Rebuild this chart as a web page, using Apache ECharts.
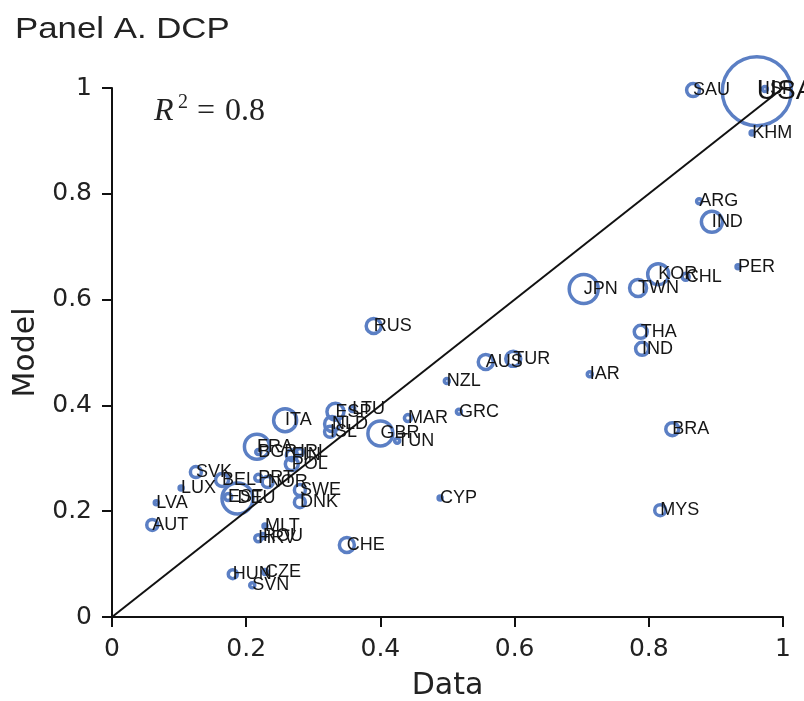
<!DOCTYPE html>
<html>
<head>
<meta charset="utf-8">
<script src="https://cdn.jsdelivr.net/npm/echarts@6/dist/echarts.min.js"></script>
<style>html,body{margin:0;padding:0;background:#fff;}#c{width:804px;height:701px;}</style>
</head>
<body>
<div id="c"></div>
<script>
var countries = ['USA','ISR','SAU','KHM','ARG','IND','PER','KOR','CHL','TWN','JPN','THA','IND','IAR','BRA','MYS','RUS','NZL','AUS','TUR','GRC','MAR','CYP','GBR','TUN','ESP','LTU','NLD','ISL','ITA','FRA','BGR','FIN','IRL','POL','SVK','LUX','BEL','PRT','NOR','EST','DEU','SWE','DNK','LVA','AUT','MLT','HRV','ROU','CHE','HUN','CZE','SVN'];
var dataValues = [0.961,0.973,0.866,0.954,0.875,0.894,0.933,0.814,0.855,0.784,0.703,0.788,0.790,0.712,0.835,0.817,0.390,0.499,0.557,0.598,0.517,0.441,0.489,0.400,0.425,0.333,0.358,0.328,0.325,0.258,0.216,0.218,0.268,0.280,0.268,0.125,0.103,0.164,0.218,0.232,0.173,0.187,0.280,0.280,0.066,0.060,0.228,0.218,0.225,0.350,0.180,0.228,0.209];
var modelValues = [0.994,0.998,0.996,0.915,0.786,0.747,0.662,0.648,0.643,0.622,0.620,0.539,0.507,0.459,0.355,0.202,0.550,0.446,0.482,0.488,0.388,0.376,0.225,0.347,0.333,0.388,0.393,0.365,0.350,0.372,0.322,0.312,0.306,0.312,0.289,0.274,0.244,0.259,0.263,0.255,0.227,0.224,0.240,0.217,0.216,0.174,0.172,0.149,0.153,0.136,0.081,0.085,0.060];
var weights = [69,5,13,4,5,21,4,21,7,17,29,13,13,5,13,11,15,5,15,15,5,7,4,25,5,17,5,15,11,23,25,5,11,7,13,11,4,13,7,11,7,31,11,11,4,11,4,7,5,15,9,5,5];
var xTicks = [0,0.2,0.4,0.6,0.8,1];
var yTicks = [0,0.2,0.4,0.6,0.8,1];
var diagLine = [[0,0],[1,1]];

var blue = '#5b7fc4';
var pts = countries.map(function(c,i){
  var item = {name:c, value:[dataValues[i], modelValues[i], weights[i]]};
  if (c === 'USA') item.label = {fontSize: 28};
  return item;
});

var chart = echarts.init(document.getElementById('c'), null, {renderer:'canvas'});
var axisCommon = {
  type:'value', min:xTicks[0], max:xTicks[xTicks.length-1], interval:xTicks[1]-xTicks[0],
  axisLine:{show:true, lineStyle:{color:'#111', width:2}},
  axisTick:{show:true, inside:false, length:10, lineStyle:{color:'#111', width:2}},
  splitLine:{show:false},
  axisLabel:{fontFamily:'DejaVu Sans', fontSize:25, color:'#222', margin:20},
  nameTextStyle:{fontFamily:'DejaVu Sans', fontSize:30, color:'#222'}
};
chart.setOption({
  animation:false,
  backgroundColor:'#fff',
  grid:{left:112, right:21, top:88, bottom:84, containLabel:false, outerBoundsMode:'none'},
  xAxis: Object.assign({}, axisCommon, {name:'Data', nameLocation:'middle', nameGap:54}),
  yAxis: Object.assign({}, axisCommon, {min:yTicks[0], max:yTicks[yTicks.length-1], interval:yTicks[1]-yTicks[0],
    name:'Model', nameLocation:'middle', nameGap:70, nameRotate:90}),
  graphic:[
    {type:'text', x:15, y:15, scaleX:1.16, style:{text:'Panel A. DCP', font:'30px "Liberation Sans"', fill:'#222', verticalAlign:'top'}},
    {type:'text', x:154, y:112, style:{text:'R', font:'italic 32px "Liberation Serif"', fill:'#222', verticalAlign:'middle'}},
    {type:'text', x:178, y:103, style:{text:'2', font:'20px "Liberation Serif"', fill:'#222', verticalAlign:'middle'}},
    {type:'text', x:197, y:112, style:{text:'=', font:'32px "Liberation Serif"', fill:'#222', verticalAlign:'middle'}},
    {type:'text', x:225, y:112, style:{text:'0.8', font:'32px "Liberation Serif"', fill:'#222', verticalAlign:'middle'}}
  ],
  series:[
    {type:'scatter', z:2, data:pts,
     symbol:'circle',
     symbolSize:function(v){return v[2];},
     itemStyle:{color:'rgba(0,0,0,0)', borderColor:blue, borderWidth:3.5, opacity:1},
     label:{show:true, formatter:'{b}', position:'inside', align:'left', verticalAlign:'middle', offset:[2,0],
            fontFamily:'Liberation Sans', fontSize:18, color:'#151515'},
     emphasis:{disabled:true},
     labelLayout:{hideOverlap:false}
    },
    {type:'line', z:3, data:diagLine, symbol:'none', lineStyle:{color:'#111', width:2}, silent:true}
  ]
});
</script>
</body>
</html>
